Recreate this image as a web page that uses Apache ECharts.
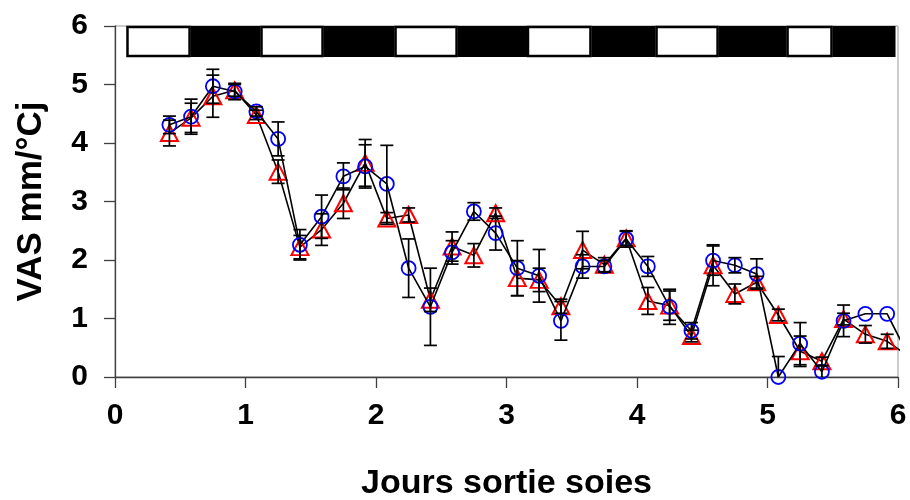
<!DOCTYPE html>
<html><head><meta charset="utf-8">
<script src="https://cdn.jsdelivr.net/npm/echarts@6/dist/echarts.min.js"></script>
<style>html,body{margin:0;padding:0;background:#fff}#c{width:910px;height:500px}</style>
</head><body><div id="c"></div>
<script>
// Jours sortie soies (x, in days)
const joursX = [0.417,0.583,0.750,0.917,1.083,1.250,1.417,1.583,1.750,1.917,2.083,2.250,2.417,2.583,2.750,2.917,3.083,3.250,3.417,3.583,3.750,3.917,4.083,4.250,4.417,4.583,4.750,4.917,5.083,5.250,5.417,5.583,5.750,5.917,6.083];
// Series with blue circles
const vasCercles = [4.31,4.45,4.97,4.88,4.54,4.07,2.26,2.74,3.43,3.60,3.30,1.86,1.20,2.13,2.83,2.46,1.86,1.73,0.96,1.89,1.89,2.36,1.89,1.20,0.79,1.99,1.91,1.76,0.00,0.57,0.09,0.96,1.08,1.08,0.35];
const errCercles = [0.15,0.30,0.29,0.14,0.08,0.29,0.26,0.37,0.23,0.37,0.66,0.50,0.66,0.20,0.15,0.29,0.47,0.45,0.33,0.20,0.10,0.14,0.17,0.30,0.14,0.25,0.13,0.26,0.35,0.36,0.10,0.27,0,0,0];
// Series with red triangles
const vasTriangles = [4.17,4.43,4.80,4.90,4.48,3.51,2.22,2.52,2.97,3.66,2.71,2.77,1.32,2.23,2.08,2.80,1.69,1.66,1.21,2.17,1.92,2.37,1.30,1.22,0.70,1.91,1.42,1.62,1.06,0.44,0.27,0.99,0.73,0.61,0.35];
const errTriangles = [0.22,0.25,0.36,0.10,0.08,0.20,0.20,0.27,0.26,0.40,0.10,0.12,0.20,0.25,0.20,0.09,0.30,0.20,0.12,0.32,0.12,0.12,0.23,0.25,0.10,0.35,0.17,0.10,0.10,0.26,0.07,0.10,0.15,0.12,0];
// Day / night bar (photoperiod)
const photoBornes = [0.088,0.579,1.115,1.598,2.142,2.625,3.157,3.651,4.142,4.625,5.146,5.498,5.981];
const photoPhases = ['jour','nuit','jour','nuit','jour','nuit','jour','nuit','jour','nuit','jour','nuit'];
// Axes
const xTicks = [0,1,2,3,4,5,6];
const yTicks = [0,1,2,3,4,5,6];

const FONT = '"Liberation Sans", Arial, sans-serif';
const BAR_TOP = 6.0, BAR_BOTTOM = 5.47;

function pts(vals){
  return joursX.map((x,i)=> x > xTicks[xTicks.length-1]
    ? {value:[x, vals[i]], symbol:'none'}
    : {value:[x, vals[i]]});
}
function errData(vals, errs){
  const out = [];
  joursX.forEach((x,i)=>{ if (errs[i] > 0) out.push([x, vals[i]-errs[i], vals[i]+errs[i]]); });
  return out;
}
function errRender(params, api){
  const x = api.value(0);
  const lo = api.coord([x, api.value(1)]);
  const hi = api.coord([x, api.value(2)]);
  const w = 6.5;
  const st = {stroke:'#000', lineWidth:1.7};
  return {type:'group', children:[
    {type:'line', shape:{x1:lo[0],y1:lo[1],x2:hi[0],y2:hi[1]}, style:st},
    {type:'line', shape:{x1:hi[0]-w,y1:hi[1],x2:hi[0]+w,y2:hi[1]}, style:st},
    {type:'line', shape:{x1:lo[0]-w,y1:lo[1],x2:lo[0]+w,y2:lo[1]}, style:st}
  ]};
}

const chart = echarts.init(document.getElementById('c'), null, {renderer:'canvas'});
chart.setOption({
  animation:false,
  backgroundColor:'#fff',
  grid:{left:115, right:12, top:26, bottom:123, containLabel:false, outerBoundsMode:'none',
        show:true, borderColor:'#999', borderWidth:1, backgroundColor:'transparent'},
  xAxis:{
    type:'value', min:xTicks[0], max:xTicks[xTicks.length-1], interval:1,
    name:'Jours sortie soies', nameLocation:'middle', nameGap:90,
    nameTextStyle:{fontFamily:FONT, fontWeight:'bold', fontSize:34, color:'#000'},
    axisLine:{show:true, onZero:false, lineStyle:{color:'#404040', width:1.3}},
    axisTick:{show:true, length:11, lineStyle:{color:'#404040', width:1.3}},
    axisLabel:{fontFamily:FONT, fontWeight:'bold', fontSize:30, color:'#000', margin:24},
    splitLine:{show:false}
  },
  yAxis:{
    type:'value', min:yTicks[0], max:yTicks[yTicks.length-1], interval:1,
    name:'VAS mm/°Cj', nameLocation:'middle', nameGap:66,
    nameTextStyle:{fontFamily:FONT, fontWeight:'bold', fontSize:35, color:'#000'},
    axisLine:{show:true, onZero:false, lineStyle:{color:'#404040', width:1.3}},
    axisTick:{show:true, length:11, lineStyle:{color:'#404040', width:1.3}},
    axisLabel:{fontFamily:FONT, fontWeight:'bold', fontSize:30, color:'#000', margin:27},
    splitLine:{show:false}
  },
  series:[
    {
      type:'custom', name:'photopériode', clip:false, z:1,
      data: photoPhases.map((p,i)=>[photoBornes[i], photoBornes[i+1], i]),
      encode:{x:[0,1]},
      renderItem:function(params, api){
        const a = api.coord([api.value(0), BAR_TOP]);
        const b = api.coord([api.value(1), BAR_BOTTOM]);
        const phase = photoPhases[api.value(2)];
        if (phase === 'nuit') {
          return {type:'rect', shape:{x:a[0], y:a[1], width:b[0]-a[0], height:b[1]-a[1]}, style:{fill:'#000'}};
        }
        return {type:'rect', shape:{x:a[0]+1, y:a[1]+1, width:b[0]-a[0]-2, height:b[1]-a[1]-2}, style:{fill:'#fff', stroke:'#000', lineWidth:2.5}};
      }
    },
    {
      type:'line', name:'triangles', clip:false, z:3,
      data: pts(vasTriangles),
      symbol:'triangle', symbolSize:[17,16],
      lineStyle:{color:'#000', width:1.6},
      itemStyle:{color:'transparent', borderColor:'#ff0000', borderWidth:2},
      emphasis:{disabled:true}
    },
    {
      type:'line', name:'cercles', clip:false, z:4,
      data: pts(vasCercles),
      symbol:'circle', symbolSize:14,
      lineStyle:{color:'#000', width:1.6},
      itemStyle:{color:'transparent', borderColor:'#0000ff', borderWidth:1.8},
      emphasis:{disabled:true}
    },
    {
      type:'custom', name:'err triangles', clip:true, z:5,
      data: errData(vasTriangles, errTriangles), encode:{x:0, y:[1,2]},
      renderItem: errRender
    },
    {
      type:'custom', name:'err cercles', clip:true, z:5,
      data: errData(vasCercles, errCercles), encode:{x:0, y:[1,2]},
      renderItem: errRender
    }
  ]
});
</script>
</body></html>
